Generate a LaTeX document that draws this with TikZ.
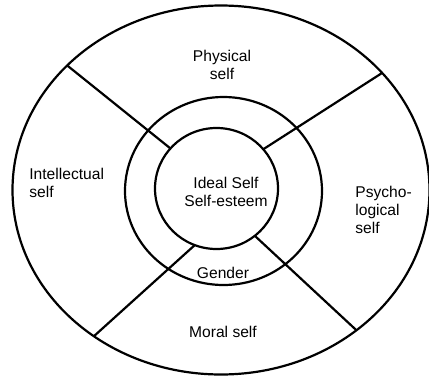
\documentclass[tikz,border=0pt]{standalone}
\usepackage{fontspec}
\setmainfont{Liberation Sans}
\usetikzlibrary{shapes.geometric}

\begin{document}
\begin{tikzpicture}[
    x=0.5pt, y=0.5pt,
    ring/.style={draw, ellipse, line width=1.1pt, inner sep=0pt, outer sep=0pt},
    part/.style={-, line width=1.1pt},
    lbl/.style={font=\fontsize{7.8}{9.2}\selectfont, inner sep=0pt, align=center},
    lbll/.style={lbl, align=left, anchor=west}
]
    \useasboundingbox (0,0) rectangle (429,377);

    \node[ring, minimum width=208.5pt, minimum height=184.5pt] (outer) at (221,187) {};
    \node[ring, minimum width=98.5pt, minimum height=94pt] (middle) at (223.5,186) {};
    \node[ring, minimum width=61.5pt, minimum height=60.5pt] (inner) at (216.5,188.5) {};

    \draw[part] (outer.141) -- (inner.139);
    \draw[part] (outer.36) -- (inner.40);
    \draw[part] (outer.229) -- (inner.249);
    \draw[part] (outer.314) -- (inner.309);

    \node[lbl] (physical) at (222,312) {Physical\\self};
    \node[lbll] (intellect) at (29,194) {Intellectual\\self};
    \node[lbll] (psycho) at (355,167) {Psycho-\\logical\\self};
    \node[lbl] (ideal) at (226,185) {Ideal Self\\Self-esteem};
    \node[lbl] (gender) at (223,104) {Gender};
    \node[lbl] (moral) at (223,45) {Moral self};
\end{tikzpicture}
\end{document}
